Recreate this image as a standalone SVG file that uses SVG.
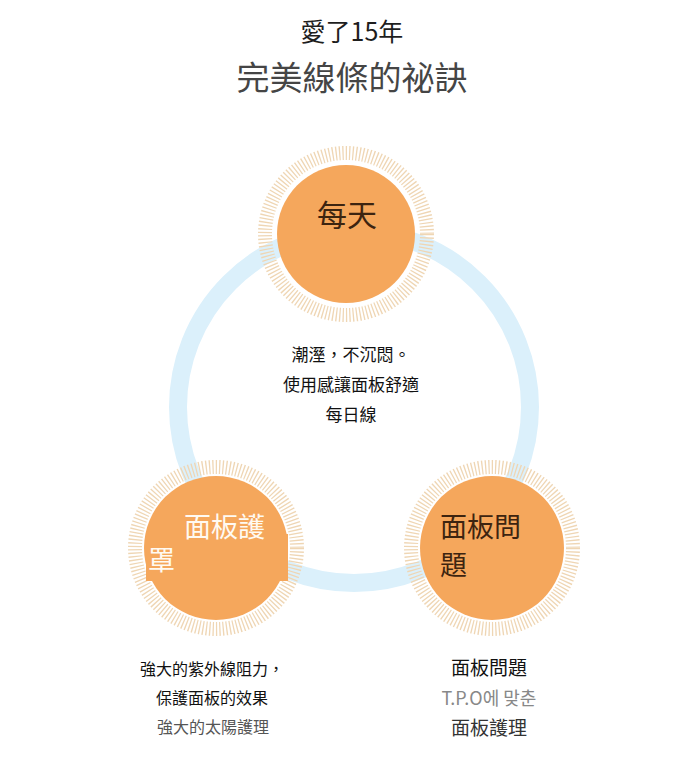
<svg xmlns="http://www.w3.org/2000/svg" width="686" height="783" viewBox="0 0 686 783">
<style>
.t{font-family:"Noto Sans CJK TC","Noto Sans CJK KR","Noto Sans",sans-serif;text-anchor:middle}
.ticks{fill:none;stroke:#efd6b4;stroke-width:14;stroke-dasharray:1.3 2.1}
.orb{fill:#f5a75c}
</style>
<rect width="686" height="783" fill="#ffffff"/>
<g id="title">
<text class="t" x="352" y="41" font-size="25" fill="#1e1e1e">愛了15年</text>
<text class="t" x="352" y="90" font-size="33" fill="#454545">完美線條的祕訣</text>
</g>
<g id="connectors">
<circle cx="354" cy="407" r="176" fill="none" stroke="#dbf0fb" stroke-width="18"/>
</g>
<g id="node-top">
<circle class="ticks" cx="346" cy="234" r="81"/>
<circle class="orb" cx="346" cy="234" r="69"/>
<text class="t" x="347" y="226" font-size="30" fill="#3d2410">每天</text>
</g>
<g id="node-center-text">
<text class="t" x="351" y="361" font-size="17" fill="#111">潮溼，不沉悶。</text>
<text class="t" x="351" y="391" font-size="17" fill="#111">使用感讓面板舒適</text>
<text class="t" x="351" y="421" font-size="17" fill="#111">每日線</text>
</g>
<g id="node-left">
<circle class="ticks" cx="216" cy="548" r="81"/>
<circle class="orb" cx="216" cy="548" r="72"/>
<rect class="orb" x="146" y="534" width="142" height="47"/>
<text class="t" font-size="27" fill="#fffaf2" style="text-anchor:start"><tspan x="184" y="537">面板護</tspan><tspan x="148" y="570">罩</tspan></text>
<text class="t" x="212" y="675" font-size="16" fill="#111">強大的紫外線阻力，</text>
<text class="t" x="212" y="704" font-size="16" fill="#111">保護面板的效果</text>
<text class="t" x="213" y="733" font-size="16" fill="#555">強大的太陽護理</text>
</g>
<g id="node-right">
<circle class="ticks" cx="492" cy="548" r="81"/>
<circle class="orb" cx="492" cy="548" r="72"/>
<text class="t" font-size="27" fill="#3d2410" style="text-anchor:start"><tspan x="440" y="537">面板問</tspan><tspan x="440" y="575">題</tspan></text>
<text class="t" x="489" y="675" font-size="19" fill="#111">面板問題</text>
<text class="t" x="489" y="705" font-size="18" fill="#888">T.P.O에 맞춘</text>
<text class="t" x="489" y="735" font-size="19" fill="#333">面板護理</text>
</g>
</svg>
